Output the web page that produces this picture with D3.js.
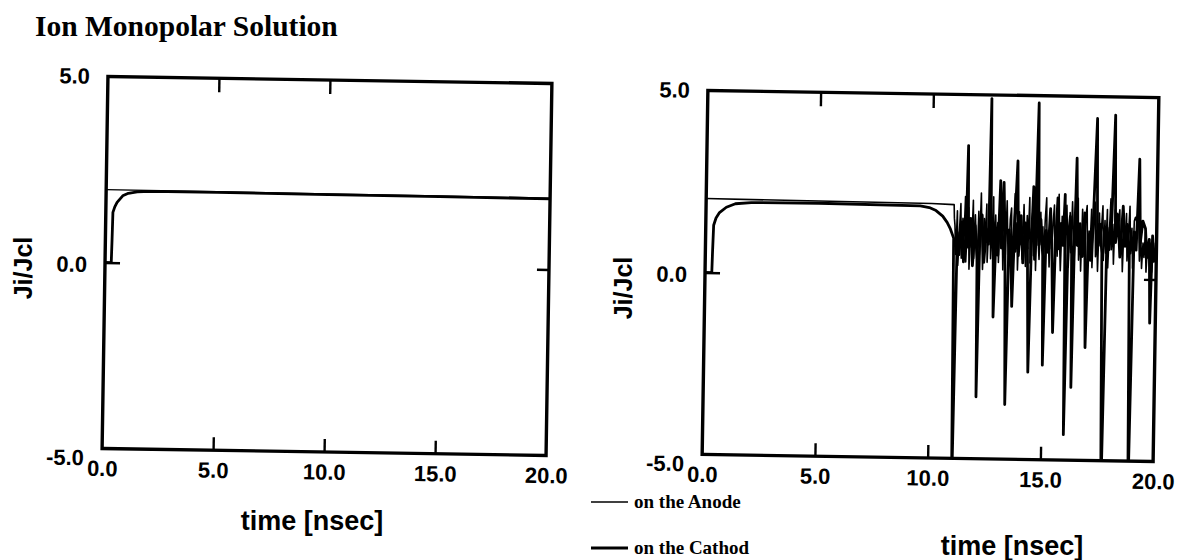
<!DOCTYPE html>
<html><head><meta charset="utf-8">
<script src="https://cdn.jsdelivr.net/npm/d3@7"></script>
<style>body{margin:0;background:#fff}</style>
</head><body>
<svg id="c" width="1181" height="560"></svg>
<script>
// ---------- data ----------
const title = "Ion Monopolar Solution";
const xTickValues = [0, 5, 10, 15, 20];
const xTickLabels = ["0.0", "5.0", "10.0", "15.0", "20.0"];
const yTickValues = [-5, 0, 5];
const yTickLabels = ["-5.0", "0.0", "5.0"];
const xTitle = "time [nsec]";
const yTitle = "Ji/Jcl";
const legendLabels = ["on the Anode", "on the Cathod"];

// left panel
const anodeL_t = [0, 5, 10, 15, 20];
const anodeL_v = [1.96, 1.95, 1.94, 1.93, 1.92];
const cathodeL_t = [0, 0.28, 0.3, 0.32, 0.4, 0.5, 0.75, 1.0, 1.4, 2.0, 5, 10, 15, 20];
const cathodeL_v = [0, 0, 0.6, 1.35, 1.5, 1.62, 1.8, 1.87, 1.91, 1.93, 1.93, 1.92, 1.91, 1.9];

// right panel: anode, smooth part then oscillation sampled every 0.05 ns from 11.05 ns
const anodeR_t = [0, 5, 10, 11.0, 11.02];
const anodeR_v = [2.03, 2.01, 1.99, 1.97, 1.6];
const anodeR_oscStart = 11.05, anodeR_oscStep = 0.05;
const anodeR_osc = [
  1.4, 0.6, 1.8, 0.3, 1.2, 2.0, 0.5, 1.6, 0.9, 2.2, 0.4, 1.3, 1.9, 0.2, 1.5, 0.8, 2.1, 0.5, 1.7, 1.0,
  0.3, 1.8, 0.6, 2.3, 1.1, 0.2, 1.6, 0.9, 2.0, 0.4, 1.4, 1.9, 0.5, 1.2, 2.2, 0.3, 1.7, 0.8, 1.5, 0.4,
  2.0, 0.9, 1.3, 0.2, 1.8, 0.6, 2.1, 1.0, 0.4, 1.6, 1.9, 0.3, 1.2, 2.3, 0.7, 1.5, 0.2, 1.8, 0.9, 1.4,
  0.5, 2.0, 1.1, 0.3, 1.7, 0.8, 2.2, 0.4, 1.3, 1.9, 0.6, 1.5, 0.2, 2.1, 1.0, 0.5, 1.8, 0.9, 1.4, 0.3,
  1.6, 2.2, 0.7, 1.2, 0.3, 1.9, 0.8, 1.5, 2.0, 0.4, 1.3, 0.6, 2.3, 1.0, 0.2, 1.7, 0.9, 1.4, 0.5, 2.0,
  1.1, 0.3, 1.8, 0.7, 2.1, 1.3, 0.4, 1.6, 0.9, 2.2, 0.5, 1.4, 0.2, 1.9, 1.0, 0.6, 1.7, 2.0, 0.4, 1.3,
  0.8, 1.9, 0.3, 1.5, 2.1, 0.6, 1.2, 0.2, 1.8, 0.9, 1.4, 2.0, 0.5, 1.6, 0.7, 1.9, 0.3, 1.3, 2.2, 0.8,
  1.5, 0.4, 1.9, 1.7, 1.8, 1.6, 1.9, 0.6, 1.3, 0.2, 1.6, 0.9, 1.8, 0.5, 1.2, 2.0, 0.7, 1.4, 0.3, 1.6,
  1.7, 1.6, 1.8, 1.5, 0.5, 1.2, 0.3, 1.0, 0.6, 1.3, 0.2, 0.9, 1.1, 0.4, 1.0, 0.2, 0.8, 0.5, 1.0, 0.7];

// right panel: cathode
const cathodeR_t = [0, 0.3, 0.32, 0.35, 0.45, 0.6, 0.9, 1.3, 2, 5, 9.5, 9.9, 10.2, 10.5, 10.7, 10.85, 11.0,
  11.08, 11.16, 11.25, 11.35, 11.45, 11.55, 11.6, 11.66, 11.75, 11.85, 11.95,
  12.05, 12.1, 12.16, 12.25, 12.35, 12.45, 12.55, 12.6, 12.66, 12.75, 12.8, 12.88, 12.97,
  13.05, 13.12, 13.2, 13.28, 13.38, 13.46, 13.55, 13.62, 13.7, 13.8, 13.88, 13.98,
  14.08, 14.18, 14.28, 14.38, 14.46, 14.52, 14.6, 14.7, 14.78, 14.86, 14.96,
  15.02, 15.1, 15.2, 15.28, 15.36, 15.45, 15.52, 15.6, 15.68, 15.76, 15.85, 15.92,
  16.0, 16.08, 16.16, 16.24, 16.3, 16.36, 16.42, 16.5, 16.6, 16.7, 16.8, 16.9, 16.98,
  17.08, 17.18, 17.3, 17.38, 17.48, 17.58, 17.7, 17.8, 17.9,
  18.0, 18.1, 18.18, 18.28, 18.38, 18.5, 18.6, 18.7, 18.8, 18.9,
  19.0, 19.1, 19.2, 19.28, 19.38, 19.5, 19.58, 19.68, 19.75, 19.82, 19.9, 20.0];
const cathodeR_v = [0, 0, 0.6, 1.3, 1.5, 1.65, 1.8, 1.9, 1.94, 1.95, 1.92, 1.88, 1.8, 1.65, 1.48, 1.3, 1.05,
  -6, 1.2, 0.6, 1.5, 0.4, 1.2, 3.6, 0.8, 1.6, 0.3, 1.4,
  0.5, -3.3, 1.1, 1.7, 0.4, 1.3, 0.9, 4.9, 1.0, 1.5, -1.1, 1.2, 0.6,
  2.65, 0.8, 2.6, 1.0, -3.5, 1.3, 0.7, -0.8, 1.4, 3.2, 0.6, 1.7,
  0.4, 1.5, 0.8, -2.6, 1.2, 2.5, 0.5, 4.8, 0.9, 1.6, 0.6,
  -2.4, 1.3, 0.7, 1.9, 0.9, -1.5, 1.0, 2.2, 0.8, 1.5, 0.9, 2.3,
  -4.3, 1.1, 1.7, 0.8, -3.0, 1.0, 3.3, 0.9, 1.5, 0.6, 1.8, -1.9, 1.2,
  0.5, 1.6, 4.4, 0.9, 1.5, 0.7, -6, 1.4, 0.8,
  1.6, 4.5, 1.0, 1.7, 0.6, 2.0, 0.9, 1.5, 0.7, -6,
  1.3, 0.8, 3.3, 1.0, 1.6, 1.4, 0.6, 1.1, -1.2, 1.2, 0.5, 0.9];

// ---------- drawing ----------
const svg = d3.select("#c");
const SANS = "'Liberation Sans', Arial, Helvetica, sans-serif";
const SERIF = "'Liberation Serif', 'Times New Roman', serif";

svg.append("text").attr("x", 35).attr("y", 36)
  .attr("font-family", SERIF).attr("font-weight", "bold").attr("font-size", 29.5)
  .text(title);

function zip(t, v) { return t.map((d, i) => [d, v[i]]); }

function drawPanel(cfg, id) {
  const cx = (cfg.x0 + cfg.x1) / 2, cy = (cfg.y0 + cfg.y1) / 2;
  const g = svg.append("g").attr("transform", `rotate(${cfg.rot},${cx},${cy})`);
  const x = d3.scaleLinear().domain([0, 20]).range([cfg.x0, cfg.x1]);
  const y = d3.scaleLinear().domain([-5, 5]).range([cfg.y1, cfg.y0]);

  g.append("clipPath").attr("id", "clip" + id).append("rect")
    .attr("x", cfg.x0).attr("y", cfg.y0).attr("width", cfg.x1 - cfg.x0).attr("height", cfg.y1 - cfg.y0);

  const line = d3.line().x(d => x(d[0])).y(d => y(d[1]));
  const data = g.append("g").attr("clip-path", `url(#clip${id})`);
  data.append("path").datum(cfg.cathode).attr("d", line)
    .attr("fill", "none").attr("stroke", "#000").attr("stroke-width", 2.8).attr("stroke-linejoin", "round");
  data.append("path").datum(cfg.anode).attr("d", line)
    .attr("fill", "none").attr("stroke", "#000").attr("stroke-width", cfg.anodeW).attr("stroke-linejoin", "round");

  // inner tick marks
  const styleTicks = sel => { sel.select(".domain").remove(); sel.selectAll("line").attr("stroke", "#000").attr("stroke-width", 2.4); };
  g.append("g").attr("transform", `translate(0,${y(-5)})`)
    .call(d3.axisBottom(x).tickValues([5, 10, 15]).tickSize(-13).tickFormat("")).call(styleTicks);
  g.append("g").attr("transform", `translate(0,${y(5)})`)
    .call(d3.axisTop(x).tickValues([5, 10]).tickSize(-14).tickFormat("")).call(styleTicks);
  g.append("g").attr("transform", `translate(${x(0)},0)`)
    .call(d3.axisLeft(y).tickValues([0]).tickSize(-15).tickFormat("")).call(styleTicks);
  g.append("g").attr("transform", `translate(${x(20)},0)`)
    .call(d3.axisRight(y).tickValues([0]).tickSize(-12).tickFormat("")).call(styleTicks);

  // frame
  g.append("rect").attr("x", cfg.x0).attr("y", cfg.y0)
    .attr("width", cfg.x1 - cfg.x0).attr("height", cfg.y1 - cfg.y0)
    .attr("fill", "none").attr("stroke", "#000").attr("stroke-width", 3.4);

  // tick labels
  const styleLabels = sel => {
    sel.select(".domain").remove();
    sel.selectAll("line").remove();
    sel.attr("font-family", null).attr("font-size", null);
    sel.selectAll("text").attr("font-family", SANS).attr("font-weight", "bold")
      .attr("font-size", 22).attr("fill", "#000");
  };
  g.append("g").attr("transform", `translate(0,${y(-5)})`)
    .call(d3.axisBottom(x).tickValues(xTickValues).tickFormat((d, i) => xTickLabels[i]).tickSize(0).tickPadding(12))
    .call(styleLabels);
  const yl = g.append("g").attr("transform", `translate(${x(0)},0)`)
    .call(d3.axisLeft(y).tickValues(yTickValues).tickFormat((d, i) => yTickLabels[i]).tickSize(0).tickPadding(18))
    .call(styleLabels);
  // the lowest label sits a little below the corner, as in the original
  yl.selectAll(".tick text").attr("dy", d => d === -5 ? "0.75em" : (d === 0 ? "0.42em" : "0.32em"));

  // axis titles
  svg.append("text").attr("transform", `translate(${cfg.ytX},${cfg.ytY}) rotate(-90)`)
    .attr("text-anchor", "middle").attr("font-family", SANS).attr("font-weight", "bold")
    .attr("font-size", 25).text(yTitle);
  svg.append("text").attr("x", cfg.xtX).attr("y", cfg.xtY)
    .attr("text-anchor", "middle").attr("font-family", SANS).attr("font-weight", "bold")
    .attr("font-size", 27).text(xTitle);
}

const anodeR = zip(anodeR_t, anodeR_v).concat(anodeR_osc.map((v, i) => [anodeR_oscStart + i * anodeR_oscStep, v]));

drawPanel({x0: 105, x1: 549, y0: 80, y1: 452, rot: 0.9, anodeW: 1.3,
  anode: zip(anodeL_t, anodeL_v), cathode: zip(cathodeL_t, cathodeL_v),
  ytX: 32, ytY: 268, xtX: 312, xtY: 530}, "L");
drawPanel({x0: 705, x1: 1156, y0: 94, y1: 458, rot: 0.9, anodeW: 1.6,
  anode: anodeR, cathode: zip(cathodeR_t, cathodeR_v),
  ytX: 632, ytY: 288, xtX: 1012, xtY: 555}, "R");

// legend
const legend = svg.append("g");
const legendY = [502, 548], legendW = [1.3, 2.8];
legendLabels.forEach((lab, i) => {
  legend.append("line").attr("x1", 591).attr("x2", 628).attr("y1", legendY[i]).attr("y2", legendY[i])
    .attr("stroke", "#000").attr("stroke-width", legendW[i]);
  legend.append("text").attr("x", 634).attr("y", legendY[i] + 6)
    .attr("font-family", SERIF).attr("font-weight", "bold").attr("font-size", 19).text(lab);
});
</script>
</body></html>
